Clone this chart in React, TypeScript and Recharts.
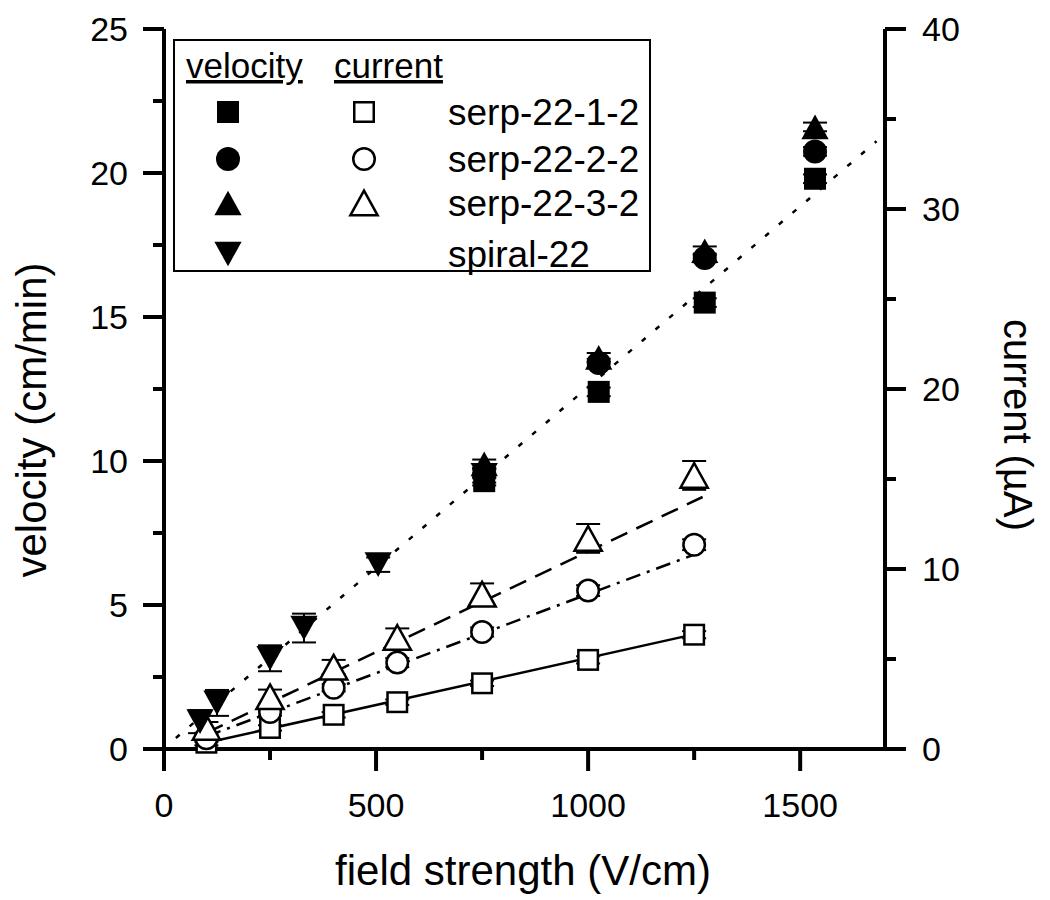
import React from "react";
import { ErrorBar, Scatter, ScatterChart, XAxis, YAxis } from "recharts";

// field strength (V/cm) for the velocity runs
const velX = [755, 1025, 1275, 1535];
const velSerp1 = [9.3, 12.4, 15.5, 19.8];
const velSerp2 = [9.55, 13.4, 17.05, 20.75];
const velSerp3 = [9.9, 13.6, 17.3, 21.6];
const velErr = [0.15, 0.15, 0.15, 0.15];

const spiralX = [85, 125, 250, 330, 505, 755];
const velSpiral = [0.95, 1.6, 3.15, 4.2, 6.4, 9.5];
const spiralErr = [0.4, 0.45, 0.45, 0.5, 0.25, 0.25];

// current (µA) runs
const curX = [100, 250, 400, 550, 750, 1000, 1250];
const curSerp1 = [0.35, 1.17, 1.9, 2.6, 3.65, 4.95, 6.35];
const curSerp2 = [0.6, 2.05, 3.4, 4.8, 6.5, 8.8, 11.35];
const curSerp3 = [1.2, 2.9, 4.55, 6.2, 8.6, 11.7, 15.2];
const curErr1 = [0.15, 0.15, 0.15, 0.15, 0.15, 0.2, 0.2];
const curErr2 = [0.2, 0.2, 0.2, 0.25, 0.25, 0.3, 0.3];
const curErr3 = [0.3, 0.4, 0.4, 0.5, 0.6, 0.8, 0.8];

// linear fits
const velFitX = [28, 1680];
const velFitY = [0.38, 21.1];
const curFit1X = [100, 1265];
const curFit1Y = [0.35, 6.45];
const curFit2X = [100, 1250];
const curFit2Y = [0.7, 10.8];
const curFit3X = [100, 1270];
const curFit3Y = [0.9, 14.0];

const xTicks = [0, 250, 500, 750, 1000, 1250, 1500];
const vTicks = [0, 2.5, 5, 7.5, 10, 12.5, 15, 17.5, 20, 22.5, 25];
const cTicks = [0, 5, 10, 15, 20, 25, 30, 35, 40];

const legendRows = ["serp-22-1-2", "serp-22-2-2", "serp-22-3-2", "spiral-22"];

const FONT = "'Liberation Sans', Arial, Helvetica, sans-serif";

const pts = (xs: number[], ys: number[], es?: number[]) =>
  xs.map((x, i) => ({ x, y: ys[i], e: es ? es[i] : 0 }));

type Kind = "square" | "circle" | "up" | "down";

function Marker({ kind, filled, cx, cy, s = 22 }: { kind: Kind; filled: boolean; cx: number; cy: number; s?: number }) {
  const fill = filled ? "#000" : "#fff";
  const sw = filled ? 0 : 2.5;
  const h = s / 2;
  if (kind === "square")
    return <rect x={cx - h + sw / 2} y={cy - h + sw / 2} width={s - sw} height={s - sw} fill={fill} stroke="#000" strokeWidth={sw} />;
  if (kind === "circle")
    return <ellipse cx={cx} cy={cy} rx={h + 1 - sw / 2} ry={h + 1 - sw / 2} fill={fill} stroke="#000" strokeWidth={sw} />;
  const w = s * 0.62;
  const t = s * 0.56;
  const d =
    kind === "up"
      ? `M${cx},${cy - t} L${cx + w},${cy + t} L${cx - w},${cy + t} Z`
      : `M${cx},${cy + t} L${cx + w},${cy - t} L${cx - w},${cy - t} Z`;
  return <path d={d} fill={fill} stroke="#000" strokeWidth={filled ? 0 : 2.5} strokeLinejoin="miter" />;
}

const shapeOf = (kind: Kind, filled: boolean) => (p: any) =>
  <Marker kind={kind} filled={filled} cx={p.cx} cy={p.cy} />;

const noShape = () => <g />;

function LeftTick({ x, y, payload }: any) {
  const v = payload.value;
  const major = v % 5 === 0;
  return (
    <g>
      <line x1={x} x2={x - (major ? 21 : 11)} y1={y} y2={y} stroke="#000" strokeWidth={4} />
      {major && (
        <text x={x - 36} y={y + 12} textAnchor="end" fontSize={34} fontFamily={FONT} fill="#000">
          {v}
        </text>
      )}
    </g>
  );
}

function RightTick({ x, y, payload }: any) {
  const v = payload.value;
  const major = v % 10 === 0;
  return (
    <g>
      <line x1={x} x2={x + (major ? 21 : 11)} y1={y} y2={y} stroke="#000" strokeWidth={4} />
      {major && (
        <text x={x + 37} y={y + 12} textAnchor="start" fontSize={34} fontFamily={FONT} fill="#000">
          {v}
        </text>
      )}
    </g>
  );
}

function BottomTick({ x, y, payload }: any) {
  const v = payload.value;
  const major = v % 500 === 0;
  return (
    <g>
      <line x1={x} x2={x} y1={y} y2={y + (major ? 22 : 11)} stroke="#000" strokeWidth={4} />
      {major && (
        <text x={x} y={y + 68} textAnchor="middle" fontSize={34} fontFamily={FONT} fill="#000">
          {v}
        </text>
      )}
    </g>
  );
}

const axisLine = { stroke: "#000", strokeWidth: 4 };
const errProps = { dataKey: "e", direction: "y" as const, width: 12, stroke: "#000", strokeWidth: 2 };

export default function App() {
  const W = 1034;
  const H = 892;
  const legendY = [104, 151, 195, 246];
  const filledKinds: Kind[] = ["square", "circle", "up", "down"];
  return (
    <div style={{ position: "relative", width: W, height: H, background: "#fff" }}>
      <ScatterChart width={W} height={H} margin={{ top: 21, right: 0, bottom: 0, left: 0 }}>
        <XAxis
          type="number"
          dataKey="x"
          domain={[0, 1700]}
          ticks={xTicks}
          interval={0}
          height={151}
          tickSize={0}
          tickMargin={0}
          tickLine={false}
          axisLine={axisLine}
          tick={<BottomTick />}
        />
        <XAxis
          xAxisId="top"
          orientation="top"
          type="number"
          dataKey="x"
          domain={[0, 1700]}
          height={0}
          tick={false}
          tickLine={false}
          axisLine={axisLine}
        />
        <YAxis
          yAxisId="v"
          type="number"
          dataKey="y"
          domain={[0, 25]}
          ticks={vTicks}
          interval={0}
          width={156}
          tickSize={0}
          tickMargin={0}
          tickLine={false}
          axisLine={axisLine}
          tick={<LeftTick />}
        />
        <YAxis
          yAxisId="c"
          orientation="right"
          type="number"
          dataKey="y"
          domain={[0, 40]}
          ticks={cTicks}
          interval={0}
          width={157}
          tickSize={0}
          tickMargin={0}
          tickLine={false}
          axisLine={axisLine}
          tick={<RightTick />}
        />

        {/* fit lines */}
        <Scatter yAxisId="v" data={pts(velFitX, velFitY)} line={{ stroke: "#000", strokeWidth: 2.5, strokeDasharray: "5 13" }} lineType="joint" shape={noShape} isAnimationActive={false} />
        <Scatter yAxisId="c" data={pts(curFit1X, curFit1Y)} line={{ stroke: "#000", strokeWidth: 2.5 }} lineType="joint" shape={noShape} isAnimationActive={false} />
        <Scatter yAxisId="c" data={pts(curFit2X, curFit2Y)} line={{ stroke: "#000", strokeWidth: 2.5, strokeDasharray: "15 7 3 7" }} lineType="joint" shape={noShape} isAnimationActive={false} />
        <Scatter yAxisId="c" data={pts(curFit3X, curFit3Y)} line={{ stroke: "#000", strokeWidth: 2.5, strokeDasharray: "18 10" }} lineType="joint" shape={noShape} isAnimationActive={false} />

        {/* current, hollow */}
        <Scatter yAxisId="c" data={pts(curX, curSerp1, curErr1)} shape={shapeOf("square", false)} isAnimationActive={false}>
          <ErrorBar {...errProps} />
        </Scatter>
        <Scatter yAxisId="c" data={pts(curX, curSerp2, curErr2)} shape={shapeOf("circle", false)} isAnimationActive={false}>
          <ErrorBar {...errProps} />
        </Scatter>
        <Scatter yAxisId="c" data={pts(curX, curSerp3, curErr3)} shape={shapeOf("up", false)} isAnimationActive={false}>
          <ErrorBar {...errProps} />
        </Scatter>

        {/* velocity, filled */}
        <Scatter yAxisId="v" data={pts(spiralX, velSpiral, spiralErr)} shape={shapeOf("down", true)} isAnimationActive={false}>
          <ErrorBar {...errProps} />
        </Scatter>
        <Scatter yAxisId="v" data={pts(velX, velSerp3, velErr)} shape={shapeOf("up", true)} isAnimationActive={false}>
          <ErrorBar {...errProps} />
        </Scatter>
        <Scatter yAxisId="v" data={pts(velX, velSerp2, velErr)} shape={shapeOf("circle", true)} isAnimationActive={false}>
          <ErrorBar {...errProps} />
        </Scatter>
        <Scatter yAxisId="v" data={pts(velX, velSerp1, velErr)} shape={shapeOf("square", true)} isAnimationActive={false}>
          <ErrorBar {...errProps} />
        </Scatter>
      </ScatterChart>

      <svg width={W} height={H} style={{ position: "absolute", left: 0, top: 0, pointerEvents: "none" }}>
        <text x={515} y={877} textAnchor="middle" fontSize={42} fontFamily={FONT} fill="#000">
          field strength (V/cm)
        </text>
        <text transform="translate(38,412) rotate(-90)" textAnchor="middle" fontSize={42} fontFamily={FONT} fill="#000">
          velocity (cm/min)
        </text>
        <text transform="translate(996,417) rotate(90)" textAnchor="middle" fontSize={40} fontFamily={FONT} fill="#000">
          current (µA)
        </text>

        <rect x={166} y={32} width={476} height={231} fill="#fff" stroke="#000" strokeWidth={2} />
        <text x={178} y={70} fontSize={35} fontFamily={FONT} fill="#000" textDecoration="underline">
          velocity
        </text>
        <text x={326} y={70} fontSize={35} fontFamily={FONT} fill="#000" textDecoration="underline">
          current
        </text>
        {legendRows.map((name, i) => (
          <g key={name}>
            <Marker kind={filledKinds[i]} filled cx={220} cy={legendY[i]} />
            {i < 3 && <Marker kind={filledKinds[i]} filled={false} cx={356} cy={legendY[i]} />}
            <text x={440} y={legendY[i] + 13} fontSize={37} fontFamily={FONT} fill="#000">
              {name}
            </text>
          </g>
        ))}
      </svg>
    </div>
  );
}
